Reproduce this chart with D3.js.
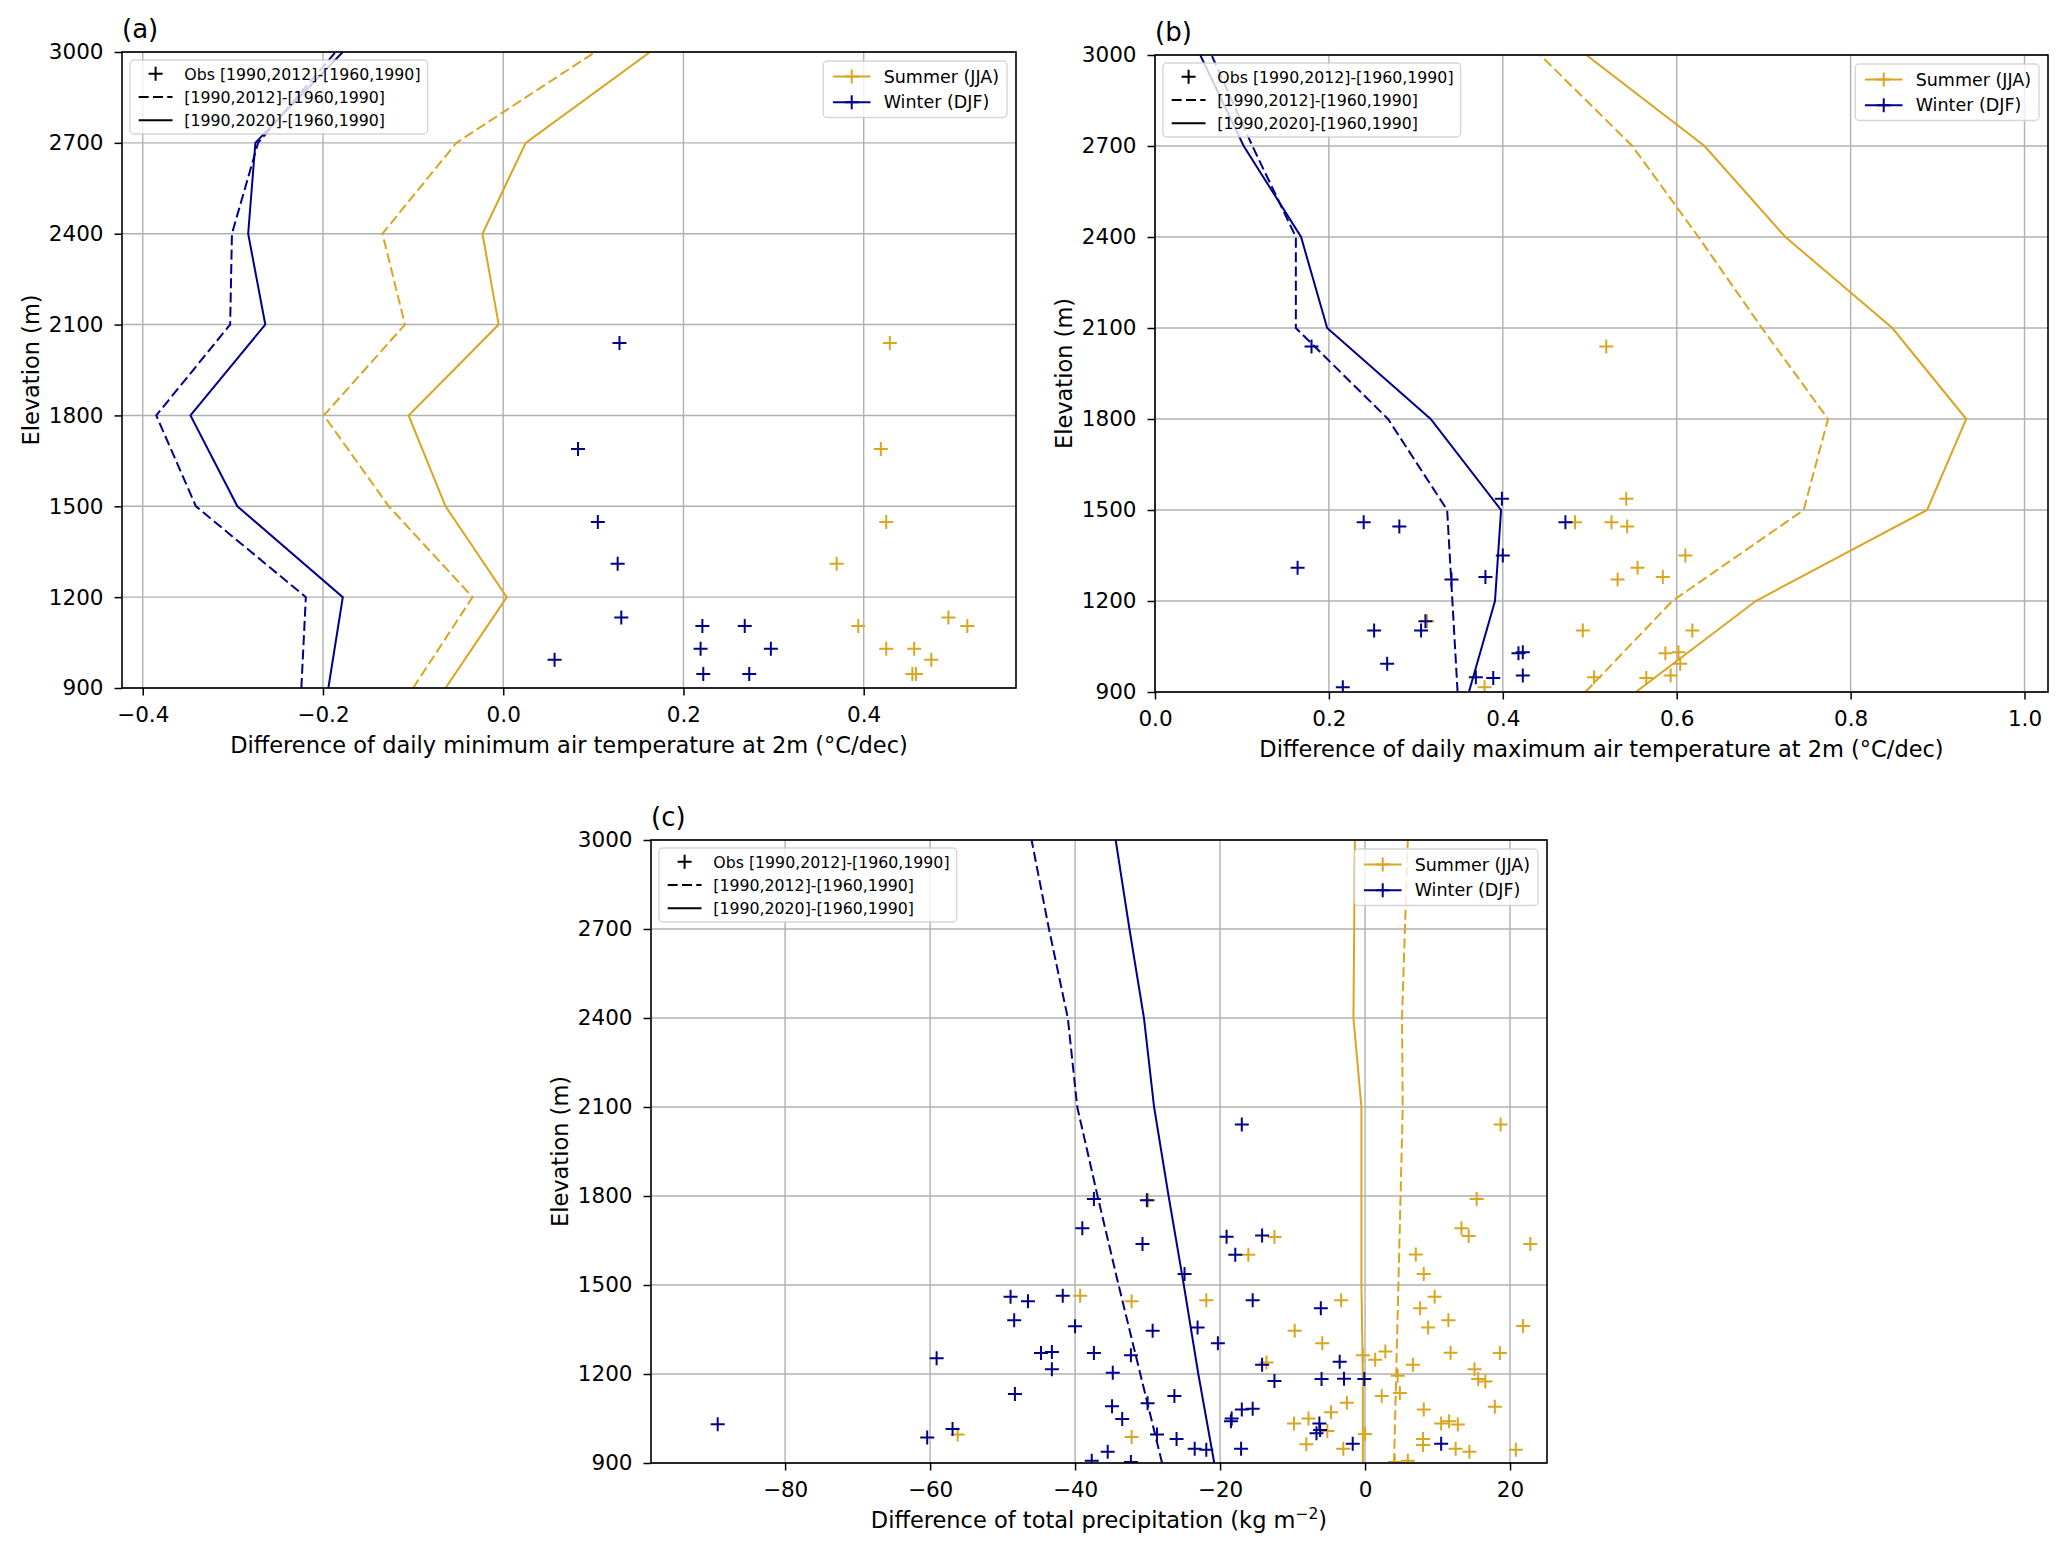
<!DOCTYPE html>
<html lang="en">
<head>
<meta charset="UTF-8">
<title>Elevation profiles</title>
<script src="https://d3js.org/d3.v7.min.js"></script>
<style>
  body { margin: 0; background: #ffffff; }
  svg text { font-family: "DejaVu Sans", sans-serif; fill: #000; }
</style>
</head>
<body>
<div id="chart"></div>
<script>

// elevation levels of the model profiles (m)
const elevLevels = [900, 1200, 1500, 1800, 2100, 2400, 2700, 3000];
const elevTicks = [900, 1200, 1500, 1800, 2100, 2400, 2700, 3000];

// (a) daily minimum temperature, model profiles (°C/dec)
const tminSummer2012 = [-0.100, -0.034, -0.127, -0.199, -0.109, -0.134, -0.052, 0.102];
const tminSummer2020 = [-0.064, 0.004, -0.064, -0.105, -0.005, -0.023, 0.025, 0.163];
const tminWinter2012 = [-0.224, -0.219, -0.341, -0.385, -0.303, -0.301, -0.272, -0.186];
const tminWinter2020 = [-0.194, -0.178, -0.295, -0.347, -0.264, -0.283, -0.275, -0.178];
// (a) stations
const tminObsElev = [2039, 1689, 1448, 1310, 1133, 1105, 1105, 1030, 1030, 993, 946, 946];
const tminObsWinter = [0.129, 0.083, 0.105, 0.127, 0.131, 0.221, 0.268, 0.219, 0.297, 0.057, 0.222, 0.273];
const tminObsSummer = [0.429, 0.419, 0.425, 0.370, 0.494, 0.394, 0.515, 0.425, 0.456, 0.475, 0.454, 0.458];

// (b) daily maximum temperature, model profiles (°C/dec)
const tmaxSummer2012 = [0.495, 0.595, 0.746, 0.774, 0.698, 0.625, 0.549, 0.443];
const tmaxSummer2020 = [0.553, 0.691, 0.888, 0.933, 0.848, 0.725, 0.632, 0.496];
const tmaxWinter2012 = [0.348, 0.342, 0.336, 0.268, 0.162, 0.162, 0.112, 0.065];
const tmaxWinter2020 = [0.361, 0.391, 0.398, 0.317, 0.198, 0.168, 0.102, 0.052];
// (b) stations
const tmaxObsElev = [2039, 1537, 1460, 1446, 1460, 1350, 1310, 1271, 1279, 1133, 1103, 1103, 993, 1028, 1031, 949, 946, 954, 916];
const tmaxObsWinter = [0.180, 0.399, 0.240, 0.281, 0.472, 0.400, 0.164, 0.341, 0.380, 0.311, 0.252, 0.306, 0.267, 0.418, 0.423, 0.369, 0.389, 0.423, 0.216];
const tmaxObsSummer = [0.519, 0.542, 0.483, 0.543, 0.525, 0.610, 0.555, 0.532, 0.584, 0.313, 0.492, 0.618, 0.604, 0.587, 0.602, 0.505, 0.565, 0.593, 0.379];

// (c) total precipitation, model profiles (kg m-2)
const precipSummer2012 = [4.0, 4.3, 4.6, 4.9, 5.2, 5.1, 5.5, 5.9];
const precipSummer2020 = [-0.3, -0.3, -0.5, -0.5, -0.5, -1.6, -1.5, -1.4];
const precipWinter2012 = [-28.0, -31.0, -34.0, -36.9, -39.7, -41.0, -43.6, -46.0];
const precipWinter2020 = [-20.8, -23.0, -25.0, -27.1, -29.1, -30.5, -32.5, -34.4];
// (c) stations
const precipObsWinter = [-17.0, -37.4, -30.1, -39.0, -30.7, -19.1, -14.2, -17.9, -24.9, -48.9,
  -46.5, -41.7, -15.5, -6.1, -48.4, -40.0, -29.3, -23.1, -20.3, -59.1,
  -44.7, -43.2, -37.4, -32.3, -43.2, -34.8, -14.2, -3.5, -12.5, -6.0,
  -2.9, -0.1, -48.3, -26.3, -34.9, -30.0, -17.0, -15.5, -89.3, -33.5,
  -18.4, -18.5, -6.3, -6.7, -56.9, -60.4, -28.7, -26.0, -6.2, -1.7,
  10.5, -35.5, -23.5, -21.9, -17.1, -37.7, -32.3];
const precipObsWinterElev = [2041, 1790, 1786, 1691, 1638, 1663, 1667, 1602, 1537, 1460,
  1445, 1464, 1449, 1422, 1381, 1361, 1346, 1357, 1304, 1253,
  1271, 1274, 1271, 1263, 1216, 1204, 1231, 1241, 1176, 1183,
  1184, 1183, 1133, 1126, 1091, 1101, 1080, 1083, 1031, 1048,
  1050, 1041, 1033, 1000, 1015, 986, 996, 981, 1011, 965,
  965, 938, 948, 945, 948, 908, 903];
const precipObsSummer = [18.7, 15.4, -29.9, 13.3, 14.3, 22.8, -12.5, -16.1, 7.0, 8.1,
  -39.3, -32.2, -21.9, -3.3, 9.6, 7.6, 11.5, 8.7, 21.8, -9.7,
  -5.9, 2.8, 11.8, 18.6, -0.3, 1.4, -13.6, 6.6, 15.1, 4.5,
  15.6, 16.6, 4.8, 2.3, -2.5, 17.9, -4.7, 8.1, -7.8, -9.8,
  -5.2, 11.6, 10.5, 12.8, 0.0, -56.2, -32.2, -8.1, -3.0, 8.0,
  8.0, 12.5, 14.4, 20.8, 5.9, 4.1];
const precipObsSummerElev = [2041, 1790, 1786, 1691, 1665, 1638, 1662, 1602, 1603, 1537,
  1464, 1445, 1449, 1449, 1460, 1422, 1381, 1357, 1362, 1346,
  1304, 1276, 1272, 1271, 1263, 1248, 1239, 1231, 1216, 1194,
  1183, 1175, 1136, 1126, 1103, 1090, 1071, 1080, 1050, 1033,
  1008, 1041, 1033, 1030, 998, 996, 988, 963, 948, 981,
  961, 948, 938, 945, 908, 903];

const SUMMER = "#daa520";
const WINTER = "#00008b";

const svg = d3.select("#chart")
    .append("svg")
    .attr("width", 2067)
    .attr("height", 1555);

const plus = "M-7,0H7M0,-7V7";

function drawPanel(p) {
    const x = d3.scaleLinear().domain(p.xDomain).range([p.left, p.right]);
    const y = d3.scaleLinear().domain([900, 3000]).range([p.bottom, p.top]);
    const g = svg.append("g");

    g.append("clipPath").attr("id", "clip-" + p.id)
        .append("rect")
        .attr("x", p.left).attr("y", p.top)
        .attr("width", p.right - p.left).attr("height", p.bottom - p.top);

    // grid
    g.selectAll(".gx").data(p.xTicks).join("line")
        .attr("x1", d => x(d)).attr("x2", d => x(d))
        .attr("y1", p.top).attr("y2", p.bottom)
        .attr("stroke", "#b0b0b0").attr("stroke-width", 1.4);
    g.selectAll(".gy").data(elevTicks).join("line")
        .attr("x1", p.left).attr("x2", p.right)
        .attr("y1", d => y(d)).attr("y2", d => y(d))
        .attr("stroke", "#b0b0b0").attr("stroke-width", 1.4);

    const plot = g.append("g").attr("clip-path", "url(#clip-" + p.id + ")");

    const line = d3.line().x(d => x(d[0])).y(d => y(d[1]));
    p.lines.forEach(l => {
        plot.append("path")
            .datum(l.values.map((v, i) => [v, elevLevels[i]]))
            .attr("d", line)
            .attr("fill", "none")
            .attr("stroke", l.color)
            .attr("stroke-width", 2)
            .attr("stroke-dasharray", l.dashed ? "10,4.3" : null);
    });

    p.obs.forEach(o => {
        plot.selectAll(null)
            .data(o.values.map((v, i) => [v, o.elev[i]]))
            .join("path")
            .attr("d", plus)
            .attr("transform", d => `translate(${x(d[0])},${y(d[1])})`)
            .attr("fill", "none")
            .attr("stroke", o.color)
            .attr("stroke-width", 2);
    });

    // spines
    g.append("rect")
        .attr("x", p.left).attr("y", p.top)
        .attr("width", p.right - p.left).attr("height", p.bottom - p.top)
        .attr("fill", "none").attr("stroke", "#000").attr("stroke-width", 1.6);

    // axes
    const ax = g.append("g")
        .attr("transform", `translate(0,${p.bottom})`)
        .call(d3.axisBottom(x).tickValues(p.xTicks).tickFormat(p.xFormat).tickSize(7.5).tickPadding(11));
    const ay = g.append("g")
        .attr("transform", `translate(${p.left},0)`)
        .call(d3.axisLeft(y).tickValues(elevTicks).tickFormat(d3.format("d")).tickSize(7.5).tickPadding(11));
    [ax, ay].forEach(a => {
        a.select(".domain").remove();
        a.attr("font-size", 21.5).attr("font-family", "DejaVu Sans");
        a.selectAll(".tick line").attr("stroke-width", 1.5);
    });

    // axis labels
    const xl = g.append("text")
        .attr("x", (p.left + p.right) / 2)
        .attr("y", p.bottom + 65)
        .attr("text-anchor", "middle")
        .attr("font-size", 22.5)
        .text(p.xLabel);
    if (p.xLabelSup) {
        xl.append("tspan").attr("font-size", 15.5).attr("dy", -9).text(p.xLabelSup);
        xl.append("tspan").attr("dy", 9).text(")");
    }
    g.append("text")
        .attr("transform", `translate(${p.left - 91},${(p.top + p.bottom) / 2}) rotate(-90)`)
        .attr("text-anchor", "middle")
        .attr("dy", "0.35em")
        .attr("font-size", 22.5)
        .text("Elevation (m)");

    g.append("text")
        .attr("x", p.left).attr("y", p.top - 14)
        .attr("font-size", 26)
        .text(p.tag);

    // legends
    drawLegend(g, [
        { label: "Obs [1990,2012]-[1960,1990]", kind: "marker", color: "#000" },
        { label: "[1990,2012]-[1960,1990]", kind: "dash", color: "#000" },
        { label: "[1990,2020]-[1960,1990]", kind: "line", color: "#000" }
    ], 15.75, p.left + 8, p.top + 8, "left");
    drawLegend(g, [
        { label: "Summer (JJA)", kind: "lineMarker", color: SUMMER },
        { label: "Winter (DJF)", kind: "lineMarker", color: WINTER }
    ], 17.5, p.right - 9, p.top + 9, "right");
}

function drawLegend(g, items, F, ax, ay, side) {
    const lg = g.append("g");
    const box = lg.append("rect");
    const step = 1.47 * F;
    const first = 0.88 * F;
    const hStart = 0.55 * F, hLen = 2.15 * F, tPad = 0.75 * F;
    let maxW = 0;
    items.forEach((it, i) => {
        const row = lg.append("g");
        const cy = first + i * step;
        const t = row.append("text")
            .attr("x", hStart + hLen + tPad).attr("y", cy)
            .attr("dy", "0.36em")
            .attr("font-size", F)
            .text(it.label);
        maxW = Math.max(maxW, t.node().getComputedTextLength());
        if (it.kind !== "marker") {
            row.append("line")
                .attr("x1", hStart).attr("x2", hStart + hLen)
                .attr("y1", cy).attr("y2", cy)
                .attr("stroke", it.color).attr("stroke-width", 2)
                .attr("stroke-dasharray", it.kind === "dash" ? "10,4.3" : null);
        }
        if (it.kind === "marker" || it.kind === "lineMarker") {
            row.append("path")
                .attr("d", plus)
                .attr("transform", `translate(${hStart + hLen / 2},${cy})`)
                .attr("fill", "none").attr("stroke", it.color).attr("stroke-width", 2);
        }
    });
    const w = hStart + hLen + tPad + maxW + 0.45 * F;
    const h = 2 * first + (items.length - 1) * step;
    box.attr("x", 0).attr("y", 0).attr("width", w).attr("height", h)
        .attr("rx", 4).attr("ry", 4)
        .attr("fill", "#fff").attr("fill-opacity", 0.8)
        .attr("stroke", "#cccccc").attr("stroke-opacity", 0.8).attr("stroke-width", 1.4);
    const x0 = side === "left" ? ax : ax - w;
    lg.attr("transform", `translate(${x0},${ay})`);
}

const fmt1 = d3.format(".1f");

drawPanel({
    id: "a", tag: "(a)",
    left: 122, right: 1016, top: 52, bottom: 688,
    xDomain: [-0.423, 0.569], xTicks: [-0.4, -0.2, 0.0, 0.2, 0.4], xFormat: fmt1,
    xLabel: "Difference of daily minimum air temperature at 2m (°C/dec)",
    lines: [
        { values: tminSummer2012, color: SUMMER, dashed: true },
        { values: tminSummer2020, color: SUMMER, dashed: false },
        { values: tminWinter2012, color: WINTER, dashed: true },
        { values: tminWinter2020, color: WINTER, dashed: false }
    ],
    obs: [
        { values: tminObsSummer, elev: tminObsElev, color: SUMMER },
        { values: tminObsWinter, elev: tminObsElev, color: WINTER }
    ]
});

drawPanel({
    id: "b", tag: "(b)",
    left: 1155, right: 2048, top: 55, bottom: 692,
    xDomain: [0, 1.027], xTicks: [0.0, 0.2, 0.4, 0.6, 0.8, 1.0], xFormat: fmt1,
    xLabel: "Difference of daily maximum air temperature at 2m (°C/dec)",
    lines: [
        { values: tmaxSummer2012, color: SUMMER, dashed: true },
        { values: tmaxSummer2020, color: SUMMER, dashed: false },
        { values: tmaxWinter2012, color: WINTER, dashed: true },
        { values: tmaxWinter2020, color: WINTER, dashed: false }
    ],
    obs: [
        { values: tmaxObsSummer, elev: tmaxObsElev, color: SUMMER },
        { values: tmaxObsWinter, elev: tmaxObsElev, color: WINTER }
    ]
});

drawPanel({
    id: "c", tag: "(c)",
    left: 651, right: 1547, top: 840, bottom: 1463,
    xDomain: [-98.5, 25.1], xTicks: [-80, -60, -40, -20, 0, 20], xFormat: d3.format("d"),
    xLabel: "Difference of total precipitation (kg m", xLabelSup: "\u22122",
    lines: [
        { values: precipSummer2012, color: SUMMER, dashed: true },
        { values: precipSummer2020, color: SUMMER, dashed: false },
        { values: precipWinter2012, color: WINTER, dashed: true },
        { values: precipWinter2020, color: WINTER, dashed: false }
    ],
    obs: [
        { values: precipObsSummer, elev: precipObsSummerElev, color: SUMMER },
        { values: precipObsWinter, elev: precipObsWinterElev, color: WINTER }
    ]
});

</script>
</body>
</html>
